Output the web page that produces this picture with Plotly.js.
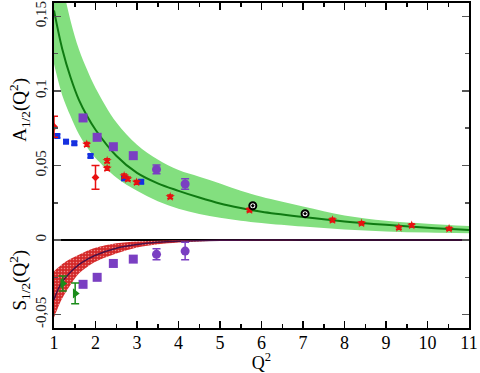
<!DOCTYPE html>
<html>
<head>
<meta charset="utf-8">
<script src="https://cdn.plot.ly/plotly-3.0.1.min.js"></script>
<style>
  body { margin: 0; background: #fff; }
  #myDiv { width: 480px; height: 373px; }
</style>
</head>
<body>
<div id="myDiv"></div>
<script>
    // model curves
    var q2Grid = [1.0, 1.2, 1.4, 1.6, 1.8, 2.0, 2.5, 3.0, 3.5, 4.0, 4.5, 5.0, 5.5, 6.0, 7.0, 8.0, 9.0, 10.0, 11.0];
    var aLine = [0.154, 0.128, 0.109, 0.094, 0.083, 0.074, 0.0565, 0.045, 0.038, 0.033, 0.0285, 0.0245, 0.0215, 0.019, 0.0155, 0.0125, 0.0102, 0.0083, 0.0068];
    var aUpper = [0.205, 0.172, 0.147, 0.128, 0.114, 0.102, 0.079, 0.064, 0.054, 0.047, 0.0425, 0.038, 0.033, 0.029, 0.0225, 0.0165, 0.013, 0.011, 0.0094];
    var aLower = [0.118, 0.097, 0.083, 0.071, 0.062, 0.055, 0.042, 0.033, 0.026, 0.021, 0.0175, 0.015, 0.013, 0.0115, 0.009, 0.007, 0.0058, 0.005, 0.0045];

    var q2S = [1.0, 1.1, 1.2, 1.4, 1.6, 1.8, 2.0, 2.5, 3.0, 3.5, 4.0, 5.0, 6.0, 8.0, 11.0];
    var sLine = [-0.040, -0.033, -0.028, -0.0215, -0.0165, -0.013, -0.0102, -0.0055, -0.003, -0.0015, -0.0008, -0.0002, 0, 0, 0];
    var sUpper = [-0.021, -0.0185, -0.016, -0.0125, -0.0098, -0.0072, -0.0052, -0.0022, -0.001, -0.0004, -0.0001, 0, 0, 0, 0];
    var sLower = [-0.052, -0.045, -0.039, -0.030, -0.0225, -0.018, -0.0145, -0.009, -0.005, -0.0028, -0.0016, -0.0005, -0.0002, 0, 0];

    // data points
    var purpleSqQ2 = [1.70, 2.04, 2.43, 2.91];
    var purpleSqA = [0.0819, 0.0689, 0.0626, 0.0566];
    var purpleSqS = [-0.0297, -0.025, -0.0157, -0.0128];
    var purpleCircQ2 = [3.47, 4.16];
    var purpleCircA = [0.0474, 0.0376];
    var purpleCircAErr = [0.003, 0.0035];
    var purpleCircS = [-0.0096, -0.0074];
    var purpleCircSErr = [0.0037, 0.0059];

    var blueQ2 = [1.08, 1.29, 1.49, 1.88, 2.69, 3.10];
    var blueA = [0.0698, 0.066, 0.0649, 0.0564, 0.0414, 0.0391];
    var blueErr = [0.0012, 0.0012, 0.0012, 0.0012, 0.0012, 0.0012];

    var redQ2 = [1.79, 2.28, 2.28, 2.69, 2.78, 2.99, 3.80, 5.71, 7.71, 8.41, 9.31, 9.62, 10.52];
    var redA = [0.0642, 0.0532, 0.0481, 0.043, 0.041, 0.0387, 0.029, 0.0201, 0.0134, 0.0112, 0.0083, 0.0099, 0.0076];
    var redErr = [0.0013, 0.0013, 0.0013, 0.0013, 0.0013, 0.0013, 0.0012, 0.0012, 0.0012, 0.001, 0.001, 0.001, 0.001];

    var redDiaQ2 = [1.0, 2.0];
    var redDiaA = [0.076, 0.042];
    var redDiaErr = [0.007, 0.008];

    var blackQ2 = [5.79, 7.05];
    var blackA = [0.023, 0.0177];

    var greenQ2 = [1.21, 1.51];
    var greenS = [-0.0291, -0.0358];
    var greenErr = [0.005, 0.007];

    var purple = '#7a3fc2';
    var serif = 'Liberation Serif, Times New Roman, serif';

    var data = [
        // green band for A1/2
        {x: q2Grid, y: aLower, mode: 'lines', line: {width: 0, shape: 'spline'}, hoverinfo: 'skip'},
        {x: q2Grid, y: aUpper, mode: 'lines', line: {width: 0, shape: 'spline'},
         fill: 'tonexty', fillcolor: '#83df7f', hoverinfo: 'skip'},
        {x: q2Grid, y: aLine, mode: 'lines', line: {color: '#0f7a12', width: 2, shape: 'spline'}},
        // red hatched band for S1/2
        {x: q2S, y: sLower, mode: 'lines', line: {width: 0, shape: 'spline'}, hoverinfo: 'skip'},
        {x: q2S, y: sUpper, mode: 'lines', line: {width: 0, shape: 'spline'},
         fill: 'tonexty', fillcolor: '#d42a2a',
         fillpattern: {shape: '.', fgcolor: '#ee8a8a', bgcolor: '#d42a2a', size: 3, solidity: 0.2},
         hoverinfo: 'skip'},
        {x: q2S, y: sLine, mode: 'lines', line: {color: '#4a1046', width: 1.5, shape: 'spline'}},

        // A1/2 points
        {x: blueQ2, y: blueA, mode: 'markers',
         marker: {symbol: 'square', size: 6, color: '#1530e0'},
         error_y: {type: 'data', array: blueErr, color: '#1530e0', thickness: 1.5, width: 3}},
        {x: redQ2, y: redA, mode: 'markers',
         marker: {symbol: 'star', size: 7, color: '#e81010'},
         error_y: {type: 'data', array: redErr, color: '#e81010', thickness: 1.5, width: 3}},
        {x: redDiaQ2, y: redDiaA, mode: 'markers',
         marker: {symbol: 'diamond', size: 6, color: '#e81010'},
         error_y: {type: 'data', array: redDiaErr, color: '#e81010', thickness: 1.5, width: 4}},
        {x: purpleSqQ2, y: purpleSqA, mode: 'markers',
         marker: {symbol: 'square', size: 9, color: purple}},
        {x: purpleCircQ2, y: purpleCircA, mode: 'markers',
         marker: {symbol: 'circle', size: 9, color: purple},
         error_y: {type: 'data', array: purpleCircAErr, color: purple, thickness: 1.5, width: 4}},
        {x: blackQ2, y: blackA, mode: 'markers',
         marker: {symbol: 'circle-dot', size: 7, color: '#fff', line: {color: '#000', width: 2}}},

        // S1/2 points
        {x: purpleSqQ2, y: purpleSqS, mode: 'markers',
         marker: {symbol: 'square', size: 9, color: purple}},
        {x: purpleCircQ2, y: purpleCircS, mode: 'markers',
         marker: {symbol: 'circle', size: 9, color: purple},
         error_y: {type: 'data', array: purpleCircSErr, color: purple, thickness: 1.5, width: 4}},
        {x: greenQ2, y: greenS, mode: 'markers',
         marker: {symbol: 'triangle-right', size: 9, color: '#1a8c1a'},
         error_y: {type: 'data', array: greenErr, color: '#1a8c1a', thickness: 1.5, width: 4}}
    ];

    var layout = {
        width: 480,
        height: 373,
        margin: {l: 53.5, r: 11, t: 3, b: 45},
        showlegend: false,
        hovermode: false,
        paper_bgcolor: '#fff',
        plot_bgcolor: '#fff',
        font: {family: serif, color: '#000'},
        xaxis: {
            range: [1, 11],
            dtick: 1,
            tick0: 1,
            ticks: 'inside',
            ticklen: 7,
            tickwidth: 1.5,
            tickcolor: '#000',
            minor: {dtick: 0.5, ticks: 'inside', ticklen: 4, tickcolor: '#000'},
            showgrid: false,
            zeroline: false,
            showline: true,
            linecolor: '#000',
            linewidth: 2,
            mirror: 'ticks',
            ticklabelstandoff: -3,
            tickfont: {family: serif, size: 18, color: '#000'},
            title: {text: 'Q<sup>2</sup>', font: {family: serif, size: 18}, standoff: 11}
        },
        yaxis: {
            range: [-0.059, 0.159],
            tickvals: [-0.05, 0, 0.05, 0.1, 0.15],
            ticktext: ['-0,05', '0', '0,05', '0,1', '0,15'],
            tickangle: -90,
            ticks: 'inside',
            ticklen: 7,
            tickwidth: 1.5,
            tickcolor: '#555',
            minor: {dtick: 0.025, ticks: 'inside', ticklen: 4, tickcolor: '#555'},
            showgrid: false,
            zeroline: true,
            zerolinecolor: '#000',
            zerolinewidth: 1.5,
            showline: true,
            linecolor: '#000',
            linewidth: 2,
            mirror: 'ticks',
            tickfont: {family: serif, size: 15, color: '#222'}
        },
        annotations: [
            {text: 'A<sub>1/2</sub>(Q<sup>2</sup>)', xref: 'paper', yref: 'paper',
             x: -0.083, y: 0.67, xanchor: 'center', yanchor: 'middle',
             textangle: -90, showarrow: false,
             font: {family: serif, size: 19}},
            {text: 'S<sub>1/2</sub>(Q<sup>2</sup>)', xref: 'paper', yref: 'paper',
             x: -0.083, y: 0.148, xanchor: 'center', yanchor: 'middle',
             textangle: -90, showarrow: false,
             font: {family: serif, size: 19}}
        ]
    };

    Plotly.newPlot('myDiv', data, layout, {staticPlot: true});
</script>
</body>
</html>
